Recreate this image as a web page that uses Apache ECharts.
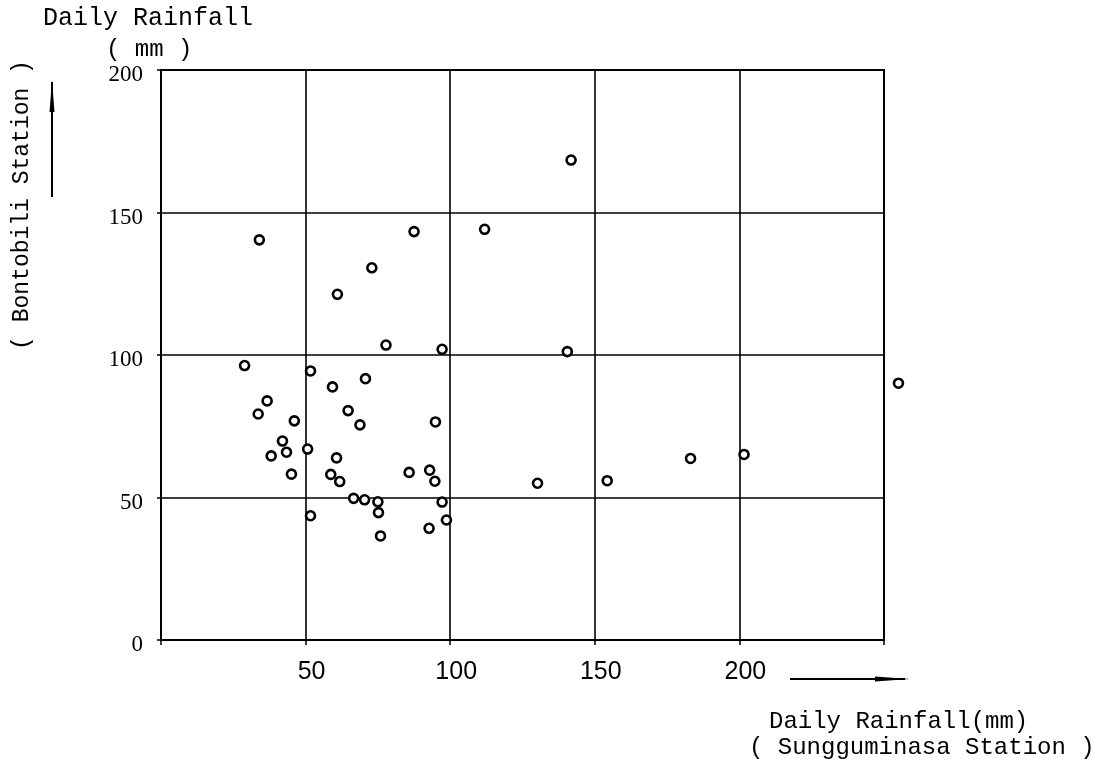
<!DOCTYPE html>
<html>
<head>
<meta charset="utf-8">
<script src="https://cdn.jsdelivr.net/npm/echarts@6/dist/echarts.min.js"></script>
<style>
html,body{margin:0;padding:0;background:#fff;}
#chart{width:1120px;height:771px;}
</style>
</head>
<body>
<div id="chart"></div>
<script>
// Sungguminasa Station daily rainfall (mm)
var xValues = [34, 87.5, 72.9, 61, 77.8, 97.2, 111.9, 141.8, 140.5, 255,
  183.1, 201.6, 130.2, 154.3, 28.9, 51.7, 59.3, 70.7, 36.7, 33.6,
  46.1, 64.7, 68.8, 94.9, 42, 43.4, 38.1, 50.7, 60.7, 45.1,
  58.7, 61.8, 85.8, 92.9, 94.7, 66.6, 70.4, 75, 75.2, 97.2,
  51.7, 98.7, 92.7, 75.9];
// Bontobili Station daily rainfall (mm)
var yValues = [140.4, 143.3, 130.6, 121.3, 103.5, 102, 144.1, 168.4, 101.2, 90.1,
  63.7, 65.1, 55, 55.9, 96.3, 94.4, 88.8, 91.7, 83.9, 79.3,
  76.9, 80.5, 75.5, 76.5, 69.8, 65.9, 64.6, 67, 63.9, 58.2,
  58.1, 55.6, 58.8, 59.6, 55.7, 49.7, 49.2, 48.5, 44.7, 48.4,
  43.6, 42.1, 39.2, 36.5];
var xTickLabels = ['', '50', '100', '150', '200', ''];
var yTickLabels = ['0', '50', '100', '150', '200'];

var points = xValues.map(function (x, i) { return [x, yValues[i]]; });
var mono = '"Liberation Mono", "Courier New", monospace';

var chart = echarts.init(document.getElementById('chart'), null, {renderer: 'canvas'});
chart.setOption({
  backgroundColor: '#ffffff',
  animation: false,
  grid: {left: 161, right: 236, top: 70, bottom: 131, show: true, borderColor: '#000', borderWidth: 2, backgroundColor: 'transparent'},
  xAxis: {
    type: 'value', min: 0, max: 250, interval: 50,
    axisLine: {show: true, lineStyle: {color: '#000', width: 2}},
    axisTick: {show: true, length: 5, lineStyle: {color: '#000', width: 1.5}},
    splitLine: {show: true, lineStyle: {color: '#000', width: 1.6}},
    axisLabel: {
      margin: 20, color: '#000', fontSize: 25, fontFamily: '"Liberation Sans", Arial, sans-serif',
      padding: [0, 0, 0, 12],
      formatter: function (v) { return xTickLabels[Math.round(v / 50)] || ''; }
    }
  },
  yAxis: {
    type: 'value', min: 0, max: 200, interval: 50,
    axisLine: {show: true, lineStyle: {color: '#000', width: 2}},
    axisTick: {show: true, length: 4, lineStyle: {color: '#000', width: 1.5}},
    splitLine: {show: true, lineStyle: {color: '#000', width: 1.6}},
    axisLabel: {
      margin: 18, color: '#000',
      formatter: function (v) { return '{t|' + yTickLabels[Math.round(v / 50)] + '}'; },
      rich: {t: {fontSize: 23, fontFamily: '"Liberation Serif", "Times New Roman", serif', color: '#000', padding: [10, 0, 0, 0]}}
    }
  },
  series: [{
    type: 'scatter',
    data: points,
    clip: false,
    symbol: 'circle',
    symbolSize: 9,
    itemStyle: {color: '#fff', borderColor: '#000', borderWidth: 2.6, opacity: 1},
    emphasis: {disabled: true}
  }],
  graphic: [
    {type: 'text', left: 43, top: 6, style: {text: 'Daily Rainfall', font: '25px ' + mono, fill: '#000'}},
    {type: 'text', left: 106, top: 38, style: {text: '( mm )', font: '24px ' + mono, fill: '#000'}},
    {type: 'text', x: 22, y: 205, rotation: Math.PI / 2,
      style: {text: '( Bontobili Station )', font: '23px ' + mono, fill: '#000', align: 'center', verticalAlign: 'middle'}},
    {type: 'line', shape: {x1: 52, y1: 82, x2: 52, y2: 197}, style: {stroke: '#000', lineWidth: 2}},
    {type: 'polygon', shape: {points: [[52, 80], [54.5, 112], [49.5, 112]]}, style: {fill: '#000'}},
    {type: 'line', shape: {x1: 790, y1: 679, x2: 905, y2: 679}, style: {stroke: '#000', lineWidth: 2}},
    {type: 'polygon', shape: {points: [[910, 679], [875, 676.5], [875, 681.5]]}, style: {fill: '#000'}},
    {type: 'text', left: 769, top: 710, style: {text: 'Daily Rainfall(mm)', font: '24px ' + mono, fill: '#000'}},
    {type: 'text', left: 749, top: 736, style: {text: '( Sungguminasa Station )', font: '24px ' + mono, fill: '#000'}}
  ]
});
</script>
</body>
</html>
